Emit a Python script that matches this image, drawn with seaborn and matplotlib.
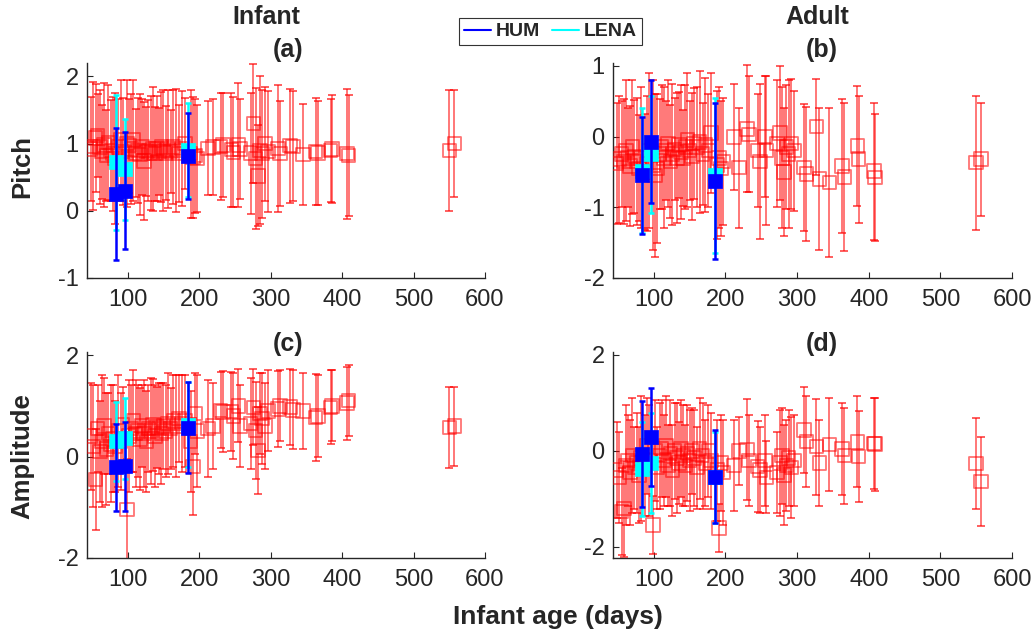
import numpy as np
import matplotlib
matplotlib.use("Agg")
import matplotlib.pyplot as plt
from matplotlib.lines import Line2D
import seaborn as sns

# ---------------- data ----------------
ages_red = [48, 52, 55, 58, 61, 64, 67, 70, 73, 76,
            79, 82, 87, 90, 93, 99, 102, 105, 108, 111,
            114, 117, 120, 123, 126, 129, 132, 135, 138, 141,
            144, 147, 150, 153, 156, 160, 164, 168, 172, 176,
            180, 188, 191, 194, 197, 212, 219, 230, 233, 245,
            248, 255, 257, 272, 276, 279, 282, 285, 288, 292,
            296, 310, 313, 327, 331, 345, 363, 366, 384, 386,
            407, 409, 550, 557]

pitch_inf = [0.92, 0.96, 1.08, 1.12, 0.95, 0.88, 0.98, 0.82, 1.02, 0.90,
             0.85, 0.78, 0.95, 1.05, 0.88, 1.00, 0.97, 0.92, 1.05, 0.86,
             0.90, 0.84, 0.95, 0.74, 0.88, 0.90, 0.86, 0.92, 0.85, 0.93,
             0.88, 0.95, 0.90, 0.86, 0.92, 0.88, 0.95, 0.90, 0.85, 0.93,
             1.00, 0.85, 0.80, 0.82, 0.78, 0.93, 0.95, 0.96, 0.98, 0.91,
             0.87, 0.98, 0.92, 0.86, 1.30, 0.78, 0.52, 0.90, 0.85, 1.00,
             0.88, 0.93, 0.85, 0.97, 0.96, 0.84, 0.88, 0.86, 0.90, 0.92,
             0.85, 0.82, 0.90, 1.00]
pitch_inf_err = [0.78, 0.95, 0.80, 0.62, 0.85, 0.70, 0.92, 0.68, 0.86, 0.75,
                 0.85, 0.98, 0.72, 0.90, 0.80, 0.95, 0.70, 0.82, 0.90, 0.65,
                 0.78, 0.90, 0.72, 0.88, 0.66, 0.75, 0.85, 0.93, 0.70, 0.78,
                 0.65, 0.82, 0.90, 0.70, 0.88, 0.62, 0.85, 0.92, 0.72, 0.86,
                 0.68, 0.95, 0.90, 0.85, 0.80, 0.70, 0.72, 0.80, 0.78, 0.85,
                 0.82, 0.92, 0.75, 0.90, 0.88, 1.05, 0.75, 1.10, 0.95, 0.85,
                 0.90, 0.95, 0.78, 0.85, 0.82, 0.75, 0.80, 0.78, 0.77, 0.80,
                 0.97, 0.90, 0.90, 0.80]

pitch_adu = [-0.38, -0.32, -0.25, -0.35, -0.20, -0.30, -0.42, -0.15, -0.28, -0.35,
             -0.45, -0.30, -0.50, -0.38, -0.20, -0.40, -0.55, -0.45, -0.25, -0.15,
             -0.30, -0.20, -0.10, -0.35, -0.25, -0.18, -0.30, -0.12, -0.22, -0.30,
             -0.15, -0.05, -0.20, -0.28, -0.10, -0.15, -0.08, -0.25, -0.12, -0.20,
             0.05, -0.40, -0.30, -0.45, -0.35, -0.01, -0.44, 0.11, 0.03, -0.20,
             -0.35, 0.00, -0.20, -0.10, 0.05, -0.30, -0.50, -0.15, -0.25, -0.10,
             -0.20, -0.44, -0.53, 0.14, -0.60, -0.65, -0.42, -0.57, -0.13, -0.32,
             -0.49, -0.58, -0.37, -0.32]
pitch_adu_err = [0.85, 0.90, 0.75, 0.88, 1.00, 0.70, 0.85, 0.95, 0.80, 0.90,
                 0.75, 1.00, 0.82, 0.95, 1.10, 1.20, 1.15, 1.05, 0.78, 0.88,
                 1.00, 0.70, 0.90, 0.80, 1.00, 0.72, 0.92, 0.75, 0.95, 0.68,
                 0.88, 0.95, 0.70, 0.90, 0.78, 0.85, 1.00, 0.72, 0.95, 0.80,
                 0.85, 1.05, 1.00, 0.95, 0.90, 0.75, 0.85, 0.90, 0.82, 0.80,
                 1.10, 0.85, 1.05, 0.90, 0.95, 1.00, 0.90, 0.88, 1.05, 0.92,
                 0.85, 0.90, 0.95, 0.68, 1.00, 1.05, 0.95, 1.05, 0.85, 0.90,
                 0.97, 0.90, 0.95, 0.80]

amp_inf = [0.40, 0.20, -0.45, 0.55, 0.10, 0.30, 0.60, 0.15, 0.45, 0.25,
           0.35, 0.20, 0.50, 0.30, 0.62, -1.04, 0.40, 0.55, 0.70, 0.45,
           0.50, 0.35, 0.60, 0.45, 0.30, 0.55, 0.50, 0.62, 0.40, 0.58,
           0.55, 0.45, 0.60, 0.50, 0.65, 0.55, 0.70, 0.60, 0.75, 0.65,
           0.70, 0.30, -0.20, 0.85, 0.50, 0.55, 0.60, 0.91, 0.88, 0.89,
           0.80, 1.00, 0.60, 0.65, 0.97, 0.51, 0.12, 0.85, 0.75, 0.60,
           0.90, 0.94, 1.00, 0.98, 0.92, 0.90, 0.77, 0.80, 0.97, 1.00,
           1.05, 1.10, 0.57, 0.60]
amp_inf_err = [1.05, 1.20, 1.00, 0.85, 1.00, 1.30, 0.95, 1.10, 0.80, 1.15,
               1.05, 0.90, 1.10, 0.95, 0.75, 1.00, 1.10, 0.85, 1.00, 1.05,
               0.90, 1.00, 0.80, 1.05, 1.00, 0.85, 1.05, 0.90, 1.00, 0.80,
               0.90, 1.00, 0.85, 0.90, 1.00, 0.80, 0.90, 1.00, 0.85, 0.95,
               0.90, 1.00, 0.95, 0.80, 1.10, 0.95, 0.85, 0.75, 0.80, 0.78,
               0.85, 0.72, 0.80, 0.90, 0.75, 0.95, 0.85, 0.80, 0.90, 0.85,
               0.80, 0.75, 0.70, 0.75, 0.78, 0.75, 0.85, 0.80, 0.73, 0.70,
               0.72, 0.70, 0.80, 0.78]

amp_adu = [-0.40, -0.55, -1.26, -1.20, -0.30, -0.20, -0.45, -0.10, -0.35, -0.25,
           -0.50, -0.15, -0.30, 0.10, -0.20, -1.54, 0.00, -0.35, -0.10, 0.05,
           -0.20, 0.10, -0.30, -0.05, -0.40, 0.00, -0.15, -0.25, 0.05, -0.10,
           -0.30, -0.05, -0.20, 0.00, -0.15, -0.35, 0.05, -0.10, -0.25, 0.00,
           -0.20, -0.40, -1.60, -0.25, -0.45, -0.30, 0.00, 0.03, -0.20, -0.32,
           -0.40, -0.20, -0.55, -0.45, -0.25, -0.10, -0.50, -0.30, -0.15, -0.35,
           -0.20, 0.44, 0.20, 0.09, -0.25, 0.13, 0.04, -0.10, 0.19, -0.12,
           0.15, 0.14, -0.26, -0.64]
amp_adu_err = [1.00, 0.95, 0.90, 1.00, 1.25, 0.95, 1.10, 1.20, 0.85, 1.05,
               1.00, 1.30, 1.05, 1.00, 1.15, 0.60, 1.05, 0.85, 1.10, 1.00,
               0.95, 1.05, 0.85, 1.10, 0.95, 1.00, 1.15, 0.85, 1.00, 1.05,
               0.85, 1.00, 1.05, 0.90, 1.00, 0.85, 1.05, 1.10, 0.90, 0.95,
               1.00, 1.05, 0.50, 1.00, 1.10, 0.95, 0.70, 1.05, 0.95, 0.95,
               0.90, 0.95, 0.75, 0.85, 1.10, 1.00, 1.05, 0.95, 1.00, 1.05,
               0.95, 0.90, 0.95, 1.00, 0.90, 0.97, 0.95, 1.00, 0.95, 0.95,
               0.95, 0.97, 0.95, 0.93]

ages_hum = [84, 96, 185]
ages_lena = [84, 96, 185]

hum_pitch_inf, hum_pitch_inf_err = [0.25, 0.30, 0.82], [0.98, 0.87, 0.64]
lena_pitch_inf, lena_pitch_inf_err = [0.72, 0.62, 0.90], [1.00, 0.75, 0.70]
hum_pitch_adu, hum_pitch_adu_err = [-0.55, -0.07, -0.63], [0.83, 0.87, 1.10]
lena_pitch_adu, lena_pitch_adu_err = [-0.48, -0.25, -0.55], [0.88, 0.83, 1.10]
hum_amp_inf, hum_amp_inf_err = [-0.21, -0.19, 0.57], [0.86, 0.88, 0.90]
lena_amp_inf, lena_amp_inf_err = [0.30, 0.36, 0.63], [0.78, 0.80, 0.83]
hum_amp_adu, hum_amp_adu_err = [-0.07, 0.28, -0.54], [1.10, 1.02, 0.97]
lena_amp_adu, lena_amp_adu_err = [-0.37, -0.25, -0.55], [0.98, 1.05, 0.95]

panel_letters = ["(a)", "(b)", "(c)", "(d)"]
col_titles = ["Infant", "Adult"]
row_labels = ["Pitch", "Amplitude"]
x_ticks = [100, 200, 300, 400, 500, 600]
y_ticks = [[-1, 0, 1, 2], [-2, -1, 0, 1], [-2, 0, 2], [-2, 0, 2]]
legend_labels = ["HUM", "LENA"]
x_label = "Infant age (days)"

# ---------------- style ----------------
sns.set_theme(style="ticks")
plt.rcParams['font.family'] = ['Liberation Sans', 'DejaVu Sans']
plt.rcParams['axes.unicode_minus'] = False
plt.rcParams['axes.edgecolor'] = '#262626'
plt.rcParams['xtick.color'] = '#262626'
plt.rcParams['ytick.color'] = '#262626'
plt.rcParams['xtick.direction'] = 'in'
plt.rcParams['ytick.direction'] = 'in'

W, H = 1036, 636
fig = plt.figure(figsize=(W / 100, H / 100), dpi=100)

def rect(l, r, t, b):
    return [l / W, 1 - b / H, (r - l) / W, (b - t) / H]

axes = [fig.add_axes(rect(87, 485, 63, 278)),
        fig.add_axes(rect(613, 1012, 63, 278)),
        fig.add_axes(rect(87, 485, 352, 558)),
        fig.add_axes(rect(613, 1012, 352, 558))]
ylims = [(-1, 2.2), (-2, 1.04), (-2, 2.06), (-2.23, 2.06)]

red_sets = [(pitch_inf, pitch_inf_err), (pitch_adu, pitch_adu_err),
            (amp_inf, amp_inf_err), (amp_adu, amp_adu_err)]
hum_sets = [(hum_pitch_inf, hum_pitch_inf_err), (hum_pitch_adu, hum_pitch_adu_err),
            (hum_amp_inf, hum_amp_inf_err), (hum_amp_adu, hum_amp_adu_err)]
lena_sets = [(lena_pitch_inf, lena_pitch_inf_err), (lena_pitch_adu, lena_pitch_adu_err),
             (lena_amp_inf, lena_amp_inf_err), (lena_amp_adu, lena_amp_adu_err)]

bar_red = (1, 0, 0, 0.68)
mk_red = (1, 0, 0, 0.55)
for i, ax in enumerate(axes):
    vals, errs = red_sets[i]
    ax.errorbar(ages_red, vals, yerr=errs, fmt='none', ecolor=bar_red,
                elinewidth=1.1, capsize=3.0, capthick=1.3, zorder=2)
    sns.scatterplot(x=ages_red, y=vals, marker='s', s=95, color='red',
                    facecolors='none', edgecolor=mk_red, linewidth=1.3,
                    ax=ax, legend=False, zorder=3)
    lv, le = lena_sets[i]
    ax.errorbar(ages_lena, lv, yerr=le, fmt='none', ecolor='cyan',
                elinewidth=1.8, capsize=2.5, capthick=1.8, zorder=4)
    sns.scatterplot(x=ages_lena, y=lv, marker='s', s=115, color='cyan',
                    edgecolor='cyan', linewidth=0.5, ax=ax, legend=False, zorder=5)
    hv, he = hum_sets[i]
    ax.errorbar(ages_hum, hv, yerr=he, fmt='none', ecolor='blue',
                elinewidth=1.8, capsize=2.5, capthick=1.8, zorder=6)
    sns.scatterplot(x=ages_hum, y=hv, marker='s', s=115, color='blue',
                    edgecolor='blue', linewidth=0.5, ax=ax, legend=False, zorder=7)

    ax.set_xlim(43, 600)
    ax.set_ylim(*ylims[i])
    ax.set_xticks(x_ticks)
    ax.set_yticks(y_ticks[i])
    ax.tick_params(axis='x', labelsize=17, length=4, width=0.8, pad=8)
    ax.tick_params(axis='y', labelsize=17, length=4, width=0.8, pad=6)
    sns.despine(ax=ax)
    for s in ['left', 'bottom']:
        ax.spines[s].set_linewidth(1.0)
    ax.set_xlabel("")
    ax.set_ylabel("")

# titles / letters
letter_pos = [(288, 50), (822, 50), (288, 344), (822, 344)]
for (x, y), t in zip(letter_pos, panel_letters):
    fig.text(x / W, 1 - y / H, t, ha='center', va='center', fontsize=18, fontweight='bold')
fig.text(266 / W, 1 - 17 / H, col_titles[0], ha='center', va='center', fontsize=18, fontweight='bold')
fig.text(817 / W, 1 - 17 / H, col_titles[1], ha='center', va='center', fontsize=18, fontweight='bold')
fig.text(22 / W, 1 - 166 / H, row_labels[0], ha='center', va='center', rotation=90, fontsize=18.5, fontweight='bold')
fig.text(22 / W, 1 - 456 / H, row_labels[1], ha='center', va='center', rotation=90, fontsize=18.5, fontweight='bold')
fig.text(558 / W, 1 - 617 / H, x_label, ha='center', va='center', fontsize=19, fontweight='bold')

handles = [Line2D([0], [0], color='blue', lw=1.5), Line2D([0], [0], color='cyan', lw=1.5)]
leg = fig.legend(handles, legend_labels, loc='upper left', bbox_to_anchor=(459 / W, 1 - 18 / H),
                 ncol=2, frameon=True, fancybox=False, edgecolor='#333333', framealpha=1,
                 prop={'weight': 'bold', 'size': 14}, handlelength=1.4, handletextpad=0.25,
                 columnspacing=0.6, borderpad=0.25, borderaxespad=0)
leg.get_frame().set_linewidth(0.8)

fig.savefig("out.png", dpi=100)
